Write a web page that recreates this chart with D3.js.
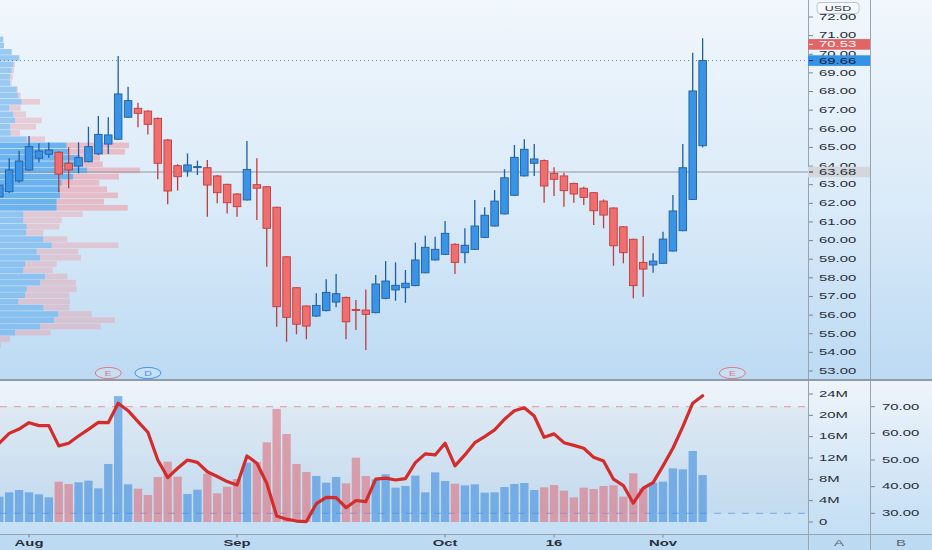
<!DOCTYPE html>
<html><head><meta charset="utf-8">
<script src="https://cdn.jsdelivr.net/npm/d3@7"></script>
<style>html,body{margin:0;padding:0;background:#dcebf7;overflow:hidden} svg{display:block}</style>
</head><body>
<svg id="c" width="932" height="550"></svg>
<script>
// ---------- DATA ----------
const dates = ["2020-07-29","2020-07-30","2020-07-31",
"2020-08-03","2020-08-04","2020-08-05","2020-08-06","2020-08-07","2020-08-10","2020-08-11","2020-08-12","2020-08-13","2020-08-14",
"2020-08-17","2020-08-18","2020-08-19","2020-08-20","2020-08-21","2020-08-24","2020-08-25","2020-08-26","2020-08-27","2020-08-28","2020-08-31",
"2020-09-01","2020-09-02","2020-09-03","2020-09-04","2020-09-08","2020-09-09","2020-09-10","2020-09-11","2020-09-14","2020-09-15","2020-09-16",
"2020-09-17","2020-09-18","2020-09-21","2020-09-22","2020-09-23","2020-09-24","2020-09-25","2020-09-28","2020-09-29","2020-09-30",
"2020-10-01","2020-10-02","2020-10-05","2020-10-06","2020-10-07","2020-10-08","2020-10-09","2020-10-12","2020-10-13","2020-10-14","2020-10-15",
"2020-10-16","2020-10-19","2020-10-20","2020-10-21","2020-10-22","2020-10-23","2020-10-26","2020-10-27","2020-10-28","2020-10-29","2020-10-30",
"2020-11-02","2020-11-03","2020-11-04","2020-11-05","2020-11-06"];
// empty future sessions shown at the right of the time scale
const futureDates = ["2020-11-09","2020-11-10","2020-11-11","2020-11-12","2020-11-13"];
const opens  = [62.34,62.62,63.20,63.79,64.42,64.63,64.74,64.15,64.00,64.23,64.65,65.18,65.44,66.62,67.10,66.95,66.56,65.40,64.02,63.73,63.93,63.91,63.47,63.02,
62.50,62.18,63.00,62.89,61.79,59.13,57.47,56.49,55.95,56.24,56.70,56.95,56.30,56.27,56.13,56.90,57.35,57.47,57.58,58.27,58.96,
59.26,59.80,59.35,59.53,60.17,60.78,61.43,62.43,63.47,64.15,64.29,63.61,63.47,63.07,62.81,62.57,62.12,61.75,60.74,60.07,58.83,58.69,
58.78,59.44,60.53,62.21,65.09];
const highs  = [63.10,64.42,64.82,65.61,65.22,65.27,64.80,65.01,65.27,66.11,66.69,66.62,69.91,68.26,67.40,67.00,66.60,65.45,64.10,64.68,64.29,64.32,63.52,63.05,
62.55,65.34,64.42,62.92,61.82,59.15,57.50,56.52,57.17,57.92,58.20,57.00,56.81,57.38,58.15,58.90,58.83,58.42,59.89,60.26,60.21,
61.05,59.85,60.66,62.18,61.79,62.71,63.83,65.13,65.44,65.18,64.35,63.93,63.64,63.10,62.89,62.60,62.21,61.78,60.77,60.10,60.24,59.32,
60.48,62.45,65.18,70.08,70.86];
const lows   = [62.20,62.55,63.11,63.75,64.20,64.45,62.59,62.81,63.61,64.20,64.60,64.65,65.40,66.58,66.08,65.70,63.29,61.95,62.68,63.43,63.52,61.28,62.00,61.46,
61.28,62.15,61.10,58.60,55.38,54.57,54.97,54.70,55.90,56.20,56.42,54.70,55.20,54.13,56.10,56.85,56.77,56.66,57.55,58.24,58.93,
59.22,58.20,58.78,59.50,60.14,60.75,61.40,62.40,63.44,63.47,62.03,62.39,61.82,62.03,61.91,60.84,60.66,58.65,58.78,56.90,56.99,58.27,
58.75,59.41,60.50,62.18,65.00];
const closes = [62.98,63.79,64.27,65.04,64.81,64.86,63.57,63.79,64.45,65.04,65.70,65.67,67.87,67.51,66.83,66.24,64.15,62.66,63.43,64.06,63.97,62.98,62.57,62.03,
61.82,63.82,62.81,60.66,56.45,55.88,55.51,55.41,56.52,57.22,57.15,55.64,56.25,56.04,57.67,57.83,57.60,57.71,58.96,59.64,59.53,
60.39,58.83,59.75,60.78,61.36,62.12,63.37,64.47,64.90,64.38,62.93,63.29,62.68,62.50,62.32,61.60,61.37,59.72,59.35,57.58,58.47,58.90,
60.08,61.59,63.91,68.03,69.66];
const volumeM = [4.74,5.56,6.00,5.56,5.19,4.63,7.56,7.13,7.44,7.75,6.31,10.88,23.60,7.06,6.25,5.06,8.44,11.31,8.50,5.25,6.06,9.06,5.38,6.63,
8.06,11.13,11.19,14.94,21.19,16.50,10.88,9.38,8.63,7.38,8.44,7.25,12.06,8.63,8.00,8.94,6.44,6.75,8.69,5.56,9.31,
7.69,7.19,6.88,7.06,5.50,5.56,6.56,7.13,7.31,6.00,6.50,6.94,5.88,4.63,6.44,6.19,6.75,6.88,4.75,9.13,6.31,7.38,
7.56,10.06,9.88,13.31,8.81];
const rsi = [56.3,60.0,61.6,64.0,62.9,62.9,55.3,56.3,59.0,61.5,64.1,64.0,71.3,68.5,64.4,60.4,50.0,43.4,46.9,50.0,49.1,45.6,43.8,41.9,
40.6,51.5,48.8,41.3,29.0,27.8,27.1,26.9,33.6,36.0,35.9,32.1,34.8,34.4,42.8,43.2,42.5,43.0,49.0,52.3,51.9,
56.3,47.8,51.9,56.5,58.8,61.3,65.3,68.5,69.6,66.5,58.5,59.8,56.5,55.5,54.4,51.0,49.6,42.8,40.4,33.8,39.4,41.5,
47.8,54.4,62.5,71.3,74.1];

// volume profile (rows, top price of each row, up/down volume in relative units)
const profileTop = [70.95,70.62,70.28,69.95,69.61,69.28,68.94,68.61,68.27,67.94,67.60,67.27,66.93,66.60,66.26,65.93,65.59,65.26,64.92,64.59,
64.25,63.92,63.58,63.25,62.91,62.58,62.24,61.91,61.57,61.24,60.90,60.57,60.23,59.90,59.56,59.23,58.89,58.56,58.22,57.89,
57.55,57.22,56.88,56.55,56.21,55.88,55.54,55.21,54.87,54.54];
const profileStep = 0.335;
const profileUp = [3.3,4,11.7,19.3,13.3,11.7,10,10,16.7,18.3,21.7,9.3,13.3,15,10,10.7,26.7,66.7,68.3,80,
76.7,87.3,73.3,61.7,60,60,56.7,56.7,23.3,23.3,26.7,26,43.3,51.7,36.7,40,25,23.3,45,40,
26.7,25,18.3,43.3,58.3,54,40,15,0,0];
const profileDown = [0,0,0,0,1.7,2.3,2.7,1.7,1,2.4,18.3,11.4,12.7,26.7,26,9.3,18.3,62.3,56.7,20,
26,52.7,45.7,37.6,47,58,47.3,71,59.4,38.4,32.6,17.3,24,66.6,41.6,41,31.7,29.4,22.3,36,
50,44.3,51.7,26,33.4,61,60.7,35.7,10,1];
const valueAreaHigh = 65.26, valueAreaLow = 61.57;
const pocPrice = 63.68;

const priceTicks = [72,71,70,69,68,67,66,65,64,63,62,61,60,59,58,57,56,55,54,53];
const volTicks = [24,20,16,12,8,4,0];
const rsiTicks = [70,60,50,40,30];
const timeTicks = [{label:"Aug",date:"2020-08-03"},{label:"Sep",date:"2020-09-01"},{label:"Oct",date:"2020-10-01"},{label:"16",date:"2020-10-16"},{label:"Nov",date:"2020-11-02"}];
const priceMarkers = [{v:70.53,fill:"#e26464",text:"#ffffff"},{v:69.66,fill:"#3592e8",text:"#0d2440"},{v:63.68,fill:"#d3d6da",text:"#2a2e39"}];
const events = [{label:"E",date:"2020-08-13",color:"#e07882"},{label:"D",date:"2020-08-19",color:"#3f95e6"},{label:"E",date:"2020-11-11",color:"#e07882"}];

// ---------- LAYOUT ----------
const W = 932, H = 550;
const plotR = 808, axisB = 870;
const SX = 1.75, FS = 8.5;
const barStep = 9.906;

const svg = d3.select("#c");
const defs = svg.append("defs");
const g1 = defs.append("linearGradient").attr("id","bgTop").attr("x1",0).attr("y1",0).attr("x2",0).attr("y2",1);
g1.append("stop").attr("offset","0%").attr("stop-color","#f1f7fc");
g1.append("stop").attr("offset","55%").attr("stop-color","#d9eaf8");
g1.append("stop").attr("offset","100%").attr("stop-color","#bcdaf3");
const g2 = defs.append("linearGradient").attr("id","bgVol").attr("x1",0).attr("y1",0).attr("x2",0).attr("y2",1);
g2.append("stop").attr("offset","0%").attr("stop-color","#eef4fa");
g2.append("stop").attr("offset","100%").attr("stop-color","#c3def4");
defs.append("clipPath").attr("id","clipTop").append("rect").attr("x",0).attr("y",0).attr("width",plotR).attr("height",380);
defs.append("clipPath").attr("id","clipVol").append("rect").attr("x",0).attr("y",381).attr("width",plotR).attr("height",153);

svg.append("rect").attr("x",0).attr("y",0).attr("width",W).attr("height",380).attr("fill","url(#bgTop)");
svg.append("rect").attr("x",0).attr("y",380).attr("width",W).attr("height",154).attr("fill","url(#bgVol)");
svg.append("rect").attr("x",0).attr("y",534).attr("width",W).attr("height",16).attr("fill","#bcdaf2");

// scales
const allDates = dates.concat(futureDates);
const x = d3.scalePoint().domain(allDates).range([-0.7, -0.7 + (allDates.length-1)*barStep]);
const step = x.step();
const yP = d3.scaleLinear().domain([53,72]).range([371,17]);
const yV = d3.scaleLinear().domain([0,24]).range([522,394]);
const yR = d3.scaleLinear().domain([30,70]).range([513.3,406.7]);

function txt(sel, px, py, s, o={}) {
  return sel.append("text")
    .attr("transform", `translate(${px},${py}) scale(${o.sx||SX},1)`)
    .attr("font-family","'Liberation Sans', Arial, sans-serif")
    .attr("font-size", o.fs||FS)
    .attr("fill", o.fill||"#2a2e39")
    .attr("text-anchor", o.anchor||"start")
    .attr("dominant-baseline","central")
    .attr("font-weight", o.fw||"normal")
    .text(s);
}

// ---------- TOP PANE ----------
const topG = svg.append("g").attr("clip-path","url(#clipTop)");

// volume profile
const xProf = d3.scaleLinear().domain([0,140]).range([0,140]);
const prof = topG.append("g");
profileTop.forEach((p,k)=>{
  const y0 = yP(p), h = yP(p-profileStep)-yP(p)-0.6;
  const inVA = p <= valueAreaHigh + 0.01 && p - profileStep >= valueAreaLow - 0.01;
  prof.append("rect").attr("x",0).attr("y",y0).attr("width",xProf(profileUp[k])).attr("height",h)
    .attr("fill", inVA ? "rgba(64,156,235,0.72)" : "rgba(72,160,236,0.5)");
  prof.append("rect").attr("x",xProf(profileUp[k])).attr("y",y0).attr("width",xProf(profileDown[k])).attr("height",h)
    .attr("fill", inVA ? "rgba(236,150,160,0.55)" : "rgba(236,160,168,0.45)");
});

// POC line
topG.append("line").attr("x1",0).attr("x2",plotR).attr("y1",yP(pocPrice)).attr("y2",yP(pocPrice))
  .attr("stroke","rgba(150,150,158,0.5)").attr("stroke-width",2);
// last price dotted line
const lastClose = closes[closes.length-1];
topG.append("line").attr("x1",0).attr("x2",plotR).attr("y1",yP(lastClose)).attr("y2",yP(lastClose))
  .attr("stroke","#4f86bb").attr("stroke-width",1).attr("stroke-dasharray","1,3");

// candles
const bw = step*0.76;
const cg = topG.append("g");
dates.forEach((d,i)=>{
  const up = closes[i] >= opens[i];
  const cx = x(d);
  const wick = up ? "#1d5ea6" : "#c23a3c";
  cg.append("line").attr("x1",cx).attr("x2",cx).attr("y1",yP(highs[i])).attr("y2",yP(lows[i]))
    .attr("stroke",wick).attr("stroke-width",1.3);
  const yt = yP(Math.max(opens[i],closes[i])), yb = yP(Math.min(opens[i],closes[i]));
  cg.append("rect").attr("x",cx-bw/2).attr("y",yt).attr("width",bw).attr("height",Math.max(1,yb-yt))
    .attr("fill", up ? "#3b93e6" : "#ee6f6e").attr("stroke",wick).attr("stroke-width",0.9);
});

// event markers
events.forEach(e=>{
  const cx = x(e.date);
  svg.append("ellipse").attr("cx",cx).attr("cy",373).attr("rx",13).attr("ry",5.6)
    .attr("fill","rgba(255,255,255,0.15)").attr("stroke",e.color).attr("stroke-width",1);
  txt(svg, cx, 373.3, e.label, {anchor:"middle", fill:e.color, fs:6.5, sx:1.6});
});

// ---------- VOLUME PANE ----------
const vol = svg.append("g").attr("clip-path","url(#clipVol)");
vol.append("rect").attr("x",0).attr("y",yR(70)).attr("width",plotR).attr("height",yR(30)-yR(70))
  .attr("fill","rgba(120,140,175,0.07)");
vol.append("line").attr("x1",0).attr("x2",plotR).attr("y1",yR(70)).attr("y2",yR(70))
  .attr("stroke","rgba(222,100,100,0.6)").attr("stroke-dasharray","7,7").attr("stroke-width",1);
vol.append("line").attr("x1",0).attr("x2",plotR).attr("y1",yR(30)).attr("y2",yR(30))
  .attr("stroke","rgba(70,130,215,0.6)").attr("stroke-dasharray","7,7").attr("stroke-width",1);
const vbw = step*0.84;
dates.forEach((d,i)=>{
  const up = closes[i] >= opens[i];
  vol.append("rect").attr("x",x(d)-vbw/2).attr("y",yV(volumeM[i])).attr("width",vbw).attr("height",yV(0)-yV(volumeM[i]))
    .attr("fill", up ? "rgba(66,142,222,0.62)" : "rgba(222,112,124,0.6)");
});
const line = d3.line().x((v,i)=>x(dates[i])).y(v=>yR(v)).curve(d3.curveLinear);
vol.append("path").attr("d",line(rsi)).attr("fill","none").attr("stroke","#d42b2b")
  .attr("stroke-width",3.2).attr("stroke-linejoin","round").attr("stroke-linecap","round");

// ---------- AXES / SEPARATORS ----------
const sep = "#98a4b0";
svg.append("line").attr("x1",plotR+0.5).attr("x2",plotR+0.5).attr("y1",0).attr("y2",H).attr("stroke",sep);
svg.append("line").attr("x1",axisB+0.5).attr("x2",axisB+0.5).attr("y1",0).attr("y2",H).attr("stroke",sep);
svg.append("line").attr("x1",0).attr("x2",W).attr("y1",380).attr("y2",380).attr("stroke","#8f9ba7").attr("stroke-width",2);
svg.append("line").attr("x1",0).attr("x2",W).attr("y1",534.5).attr("y2",534.5).attr("stroke",sep);

// price axis (labels hidden behind marker boxes are skipped like the reference's covered ones are obscured)
priceTicks.forEach(p=>{
  svg.append("line").attr("x1",plotR+1).attr("x2",plotR+5).attr("y1",yP(p)).attr("y2",yP(p)).attr("stroke","#7a8590");
  const t = txt(svg, 819, yP(p), p.toFixed(2));
});
priceMarkers.forEach(m=>{
  svg.append("rect").attr("x",plotR).attr("y",yP(m.v)-5.3).attr("width",axisB-plotR).attr("height",10.6).attr("fill",m.fill);
  svg.append("line").attr("x1",plotR+1).attr("x2",plotR+5).attr("y1",yP(m.v)).attr("y2",yP(m.v)).attr("stroke",m.text);
  txt(svg, 819, yP(m.v)+0.3, m.v.toFixed(2), {fill:m.text});
});
// USD box
svg.append("rect").attr("x",817).attr("y",2.5).attr("width",42).attr("height",11).attr("rx",3)
  .attr("fill","#f5f9fc").attr("stroke","#bcc6d0");
txt(svg, 838, 8.3, "USD", {anchor:"middle", fs:7.8, sx:1.6});

// volume axis (A)
volTicks.forEach(v=>{
  svg.append("line").attr("x1",plotR+1).attr("x2",plotR+5).attr("y1",yV(v)).attr("y2",yV(v)).attr("stroke","#7a8590");
  txt(svg, 819, yV(v), v===0 ? "0" : v+"M");
});
// rsi axis (B)
rsiTicks.forEach(r=>{
  svg.append("line").attr("x1",axisB+1).attr("x2",axisB+5).attr("y1",yR(r)).attr("y2",yR(r)).attr("stroke","#7a8590");
  txt(svg, 882, yR(r), r.toFixed(2));
});

// time axis
timeTicks.forEach(t=>{
  const tx = x(t.date);
  svg.append("line").attr("x1",tx).attr("x2",tx).attr("y1",534.5).attr("y2",537.5).attr("stroke","#7a8590");
  txt(svg, tx, 543.5, t.label, {anchor:"middle", fw:"bold", fill:"#2a2e39"});
});
txt(svg, 839, 543.5, "A", {anchor:"middle", fill:"#5d6671"});
txt(svg, 901, 543.5, "B", {anchor:"middle", fill:"#5d6671"});
</script>
</body></html>
